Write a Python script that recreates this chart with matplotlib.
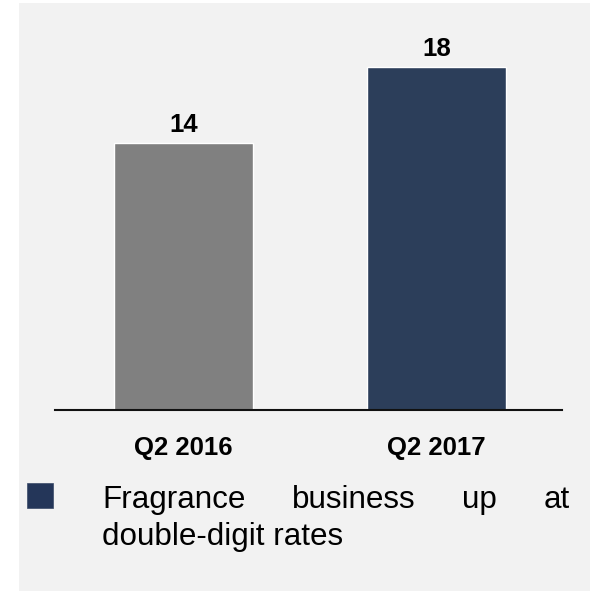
import matplotlib
matplotlib.use('Agg')
import matplotlib.pyplot as plt
from matplotlib.patches import Rectangle

plt.rcParams['font.family'] = ['Liberation Sans', 'DejaVu Sans']

periods = ['Q2 2016', 'Q2 2017']
values = [14, 18]
bar_colors = ['#808080', '#2c3e5a']
bullet_line1 = ['Fragrance', 'business', 'up', 'at']
bullet_line2 = 'double-digit rates'

W, H = 590, 591
fig = plt.figure(figsize=(W / 100, H / 100), dpi=100)
fig.patch.set_facecolor('white')

# grey panel behind everything
fig.patches.append(Rectangle((19 / W, 0), (W - 19) / W, (H - 3) / H,
                             transform=fig.transFigure, facecolor='#f2f2f2',
                             edgecolor='none', zorder=-5))

# axes: spine from x=55 to 562 px, baseline at y=410 px
ax = fig.add_axes([55 / W, (H - 410) / H, (562 - 55) / W, 381.4 / H])
ax.set_facecolor('none')
ax.set_zorder(1)
x = range(len(values))
bars = ax.bar(x, values, width=0.553, color=bar_colors, edgecolor='white', linewidth=1)
ax.set_xlim(-0.508, 1.496)
ax.set_ylim(0, 20)

for b, v in zip(bars, values):
    ax.annotate(str(v), (b.get_x() + b.get_width() / 2, v), xytext=(0, 8),
                textcoords='offset points', ha='center', va='baseline',
                fontsize=18.5, fontweight='bold')

for s in ['top', 'right', 'left']:
    ax.spines[s].set_visible(False)
ax.spines['bottom'].set_linewidth(1.5)
ax.spines['bottom'].set_color('#111111')
ax.set_yticks([])
ax.set_xticks(list(x))
ax.set_xticklabels(periods, fontsize=18.5, fontweight='bold')
ax.tick_params(axis='x', length=0, pad=18.5)

# bullet marker
fig.patches.append(Rectangle((27 / W, (H - 508) / H), 26 / W, 25 / H,
                             transform=fig.transFigure, facecolor='#243659',
                             edgecolor='#3a4a68', linewidth=0.5, zorder=2))

# justified first line
left_px, right_px = 102, 570
y1 = (H - 508) / H
y2 = (H - 545) / H
fs = 22.6
words = [fig.text(0, y1, w, fontsize=fs, va='baseline', ha='left') for w in bullet_line1]
fig.canvas.draw()
r = fig.canvas.get_renderer()
widths = [t.get_window_extent(r).width for t in words]
gap = (right_px - left_px - sum(widths)) / (len(words) - 1)
pos = left_px
for t, w in zip(words, widths):
    t.set_x(pos / W)
    pos += w + gap

fig.text(left_px / W, y2, bullet_line2, fontsize=fs, va='baseline', ha='left')

fig.savefig('out.png', dpi=100)
